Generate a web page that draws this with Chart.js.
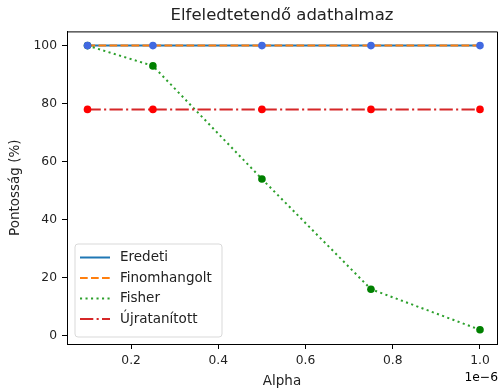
<!DOCTYPE html>
<html>
<head>
<meta charset="utf-8">
<script src="https://cdn.jsdelivr.net/npm/chart.js@4/dist/chart.umd.min.js"></script>
<style>
  html, body { margin: 0; padding: 0; background: #fff; }
  #wrap { width: 501px; height: 391px; }
</style>
</head>
<body>
<div id="wrap"><canvas id="lineChart"></canvas></div>
<script>
// data (alpha values in units of 1e-6)
var alphas = [0.1, 0.25, 0.5, 0.75, 1.0];
var eredeti = [100, 100, 100, 100, 100];
var finomhangolt = [100, 100, 100, 100, 100];
var fisher = [100, 93, 54, 16, 2];
var ujratanitott = [78, 78, 78, 78, 78];
var xTicks = [0.2, 0.4, 0.6, 0.8, 1.0];
var yTicks = [0, 20, 40, 60, 80, 100];

var FONT = 'DejaVu Sans';

function pts(ys) {
    return alphas.map(function (a, i) { return { x: a, y: ys[i] }; });
}

function lineSet(label, ys, color, dash, order) {
    return {
        label: label,
        data: pts(ys),
        borderColor: color,
        backgroundColor: color,
        borderWidth: 2,
        borderDash: dash,
        pointRadius: 0,
        fill: false,
        tension: 0,
        order: order
    };
}

function markerSet(ys, color, order) {
    return {
        label: '',
        data: pts(ys),
        showLine: false,
        pointRadius: 3.8,
        pointBackgroundColor: color,
        pointBorderColor: color,
        pointBorderWidth: 0,
        order: order,
        legendHidden: true
    };
}

var chartData = {
    datasets: [
        lineSet('Eredeti', eredeti, '#1f77b4', [], 10),
        lineSet('Finomhangolt', finomhangolt, '#ff7f0e', [7.7, 3.3], 9),
        lineSet('Fisher', fisher, '#2ca02c', [2.1, 3.4], 8),
        lineSet('Újratanított', ujratanitott, '#d62728', [13.3, 3.3, 2.1, 3.3], 7),
        markerSet(fisher, '#008000', 3),
        markerSet(ujratanitott, '#ff0000', 2),
        markerSet(eredeti, '#4169e1', 1)
    ]
};

// spines, offset text and the inside legend
var extras = {
    id: 'extras',
    afterDraw: function (chart) {
        var c = chart.ctx, a = chart.chartArea;
        c.save();
        c.strokeStyle = '#000';
        c.lineWidth = 1;
        c.beginPath();
        c.moveTo(a.left, a.top + 0.5);
        c.lineTo(a.right + 0.5, a.top + 0.5);
        c.lineTo(a.right + 0.5, a.bottom);
        c.stroke();

        c.fillStyle = '#000';
        c.font = '12.3px "' + FONT + '"';
        c.textAlign = 'right';
        c.textBaseline = 'middle';
        c.fillText('1e\u22126', a.right + 1, 378);

        // legend box
        var x0 = 75, y0 = 244, w = 147, h = 93, r = 3;
        c.beginPath();
        c.moveTo(x0 + r, y0);
        c.arcTo(x0 + w, y0, x0 + w, y0 + h, r);
        c.arcTo(x0 + w, y0 + h, x0, y0 + h, r);
        c.arcTo(x0, y0 + h, x0, y0, r);
        c.arcTo(x0, y0, x0 + w, y0, r);
        c.closePath();
        c.fillStyle = 'rgba(255,255,255,0.8)';
        c.fill();
        c.strokeStyle = '#d9d9d9';
        c.stroke();

        c.font = '13.5px "' + FONT + '"';
        var items = chart.data.datasets.filter(function (d) { return !d.legendHidden; });
        items.forEach(function (d, i) {
            var y = 257.5 + i * 20.5;
            c.beginPath();
            c.strokeStyle = d.borderColor;
            c.lineWidth = d.borderWidth;
            c.setLineDash(d.borderDash);
            c.moveTo(80, y);
            c.lineTo(110, y);
            c.stroke();
            c.setLineDash([]);
            c.fillStyle = '#222';
            c.textAlign = 'left';
            c.fillText(d.label, 120, y);
        });
        c.restore();
    }
};

var chartOptions = {
    responsive: true,
    maintainAspectRatio: false,
    animation: false,
    layout: { padding: { left: 0, right: 4, top: 0, bottom: 0 } },
    scales: {
        x: {
            type: 'linear',
            min: 0.053,
            max: 1.039,
            afterBuildTicks: function (s) { s.ticks = xTicks.map(function (v) { return { value: v }; }); },
            afterFit: function (s) { s.height = 47; },
            ticks: {
                color: '#222', padding: 4, maxRotation: 0,
                font: { family: FONT, size: 12.3 },
                callback: function (v) { return v.toFixed(1); }
            },
            grid: { drawOnChartArea: false, drawTicks: true, tickLength: 5, color: '#000' },
            border: { color: '#000', width: 1 },
            title: { display: true, text: 'Alpha', color: '#222', font: { family: FONT, size: 13.5 }, padding: { top: 0, bottom: 1 } }
        },
        y: {
            min: -2.9,
            max: 104.9,
            afterBuildTicks: function (s) { s.ticks = yTicks.map(function (v) { return { value: v }; }); },
            afterFit: function (s) { s.width = 67; },
            ticks: {
                color: '#222', padding: 5,
                font: { family: FONT, size: 12.3 }
            },
            grid: { drawOnChartArea: false, drawTicks: true, tickLength: 5, color: '#000' },
            border: { color: '#000', width: 1 },
            title: { display: true, text: 'Pontosság (%)', color: '#222', font: { family: FONT, size: 13.5 }, padding: 7 }
        }
    },
    plugins: {
        legend: { display: false },
        tooltip: { enabled: false },
        title: {
            display: true,
            fullSize: false,
            text: 'Elfeledtetendő adathalmaz',
            color: '#222',
            font: { family: FONT, size: 16.5, weight: 'normal' },
            padding: { top: 5.8, bottom: 5.8 }
        }
    }
};

var ctx = document.getElementById('lineChart').getContext('2d');
var lineChart = new Chart(ctx, {
    type: 'line',
    data: chartData,
    options: chartOptions,
    plugins: [extras]
});
</script>
</body>
</html>
